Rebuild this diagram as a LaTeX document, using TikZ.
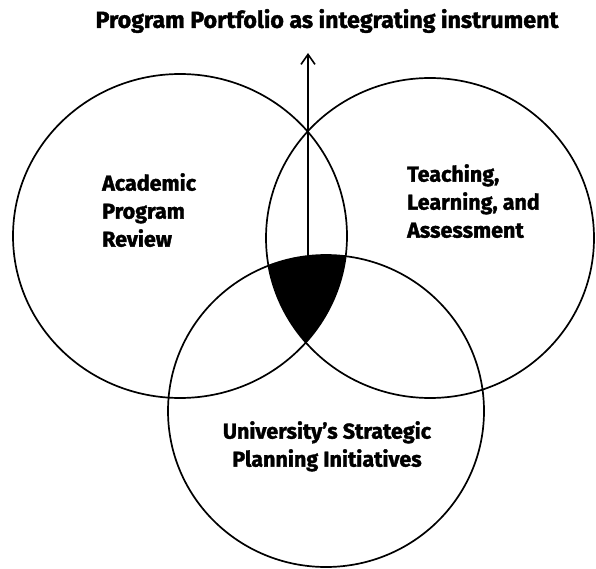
\documentclass[tikz,border=0pt]{standalone}
\usepackage{fontspec}
\setmainfont{Fira Sans}[BoldFeatures={FakeBold=1.6}]
\usetikzlibrary{arrows.meta}
\begin{document}
\begin{tikzpicture}[x=1pt,y=-1pt,
  ring/.style={draw=black,line width=1.7pt},
  lbl/.style={font=\bfseries\fontsize{21.5}{28}\selectfont,inner sep=0pt},
  riser/.style={line width=1.8pt,-{Straight Barb[length=10pt,width=14pt,line width=1.6pt]}}]
\useasboundingbox (0,0) rectangle (596,569);
% centres of the three rings
\coordinate (cA) at (180,236);
\coordinate (cT) at (430,238);
\coordinate (cU) at (326,411);
% shared region of all three rings
\begin{scope}
  \clip (cA) ellipse [x radius=167,y radius=162];
  \clip (cT) ellipse [x radius=164,y radius=160];
  \fill[black] (cU) ellipse [x radius=158,y radius=156];
\end{scope}
\draw[ring] (cA) ellipse [x radius=167,y radius=162];
\draw[ring] (cT) ellipse [x radius=164,y radius=160];
\draw[ring] (cU) ellipse [x radius=158,y radius=156];
% arrow rising from the shared region
\coordinate (base) at (308,262);
\coordinate (tip) at (308,53);
\draw[riser] (base) -- (tip);
% labels
\node[lbl,font=\bfseries\fontsize{23.2}{28}\selectfont] (title) at (327,21) {Program Portfolio as integrating instrument};
\node[lbl,align=left,anchor=north west] (apr) at (102,173) {Academic\\Program\\Review};
\node[lbl,align=left,anchor=north west] (tla) at (407,164) {Teaching,\\Learning, and\\Assessment};
\node[lbl,align=center,anchor=north] (uspi) at (327,421) {University's Strategic\\Planning Initiatives};
\end{tikzpicture}
\end{document}
